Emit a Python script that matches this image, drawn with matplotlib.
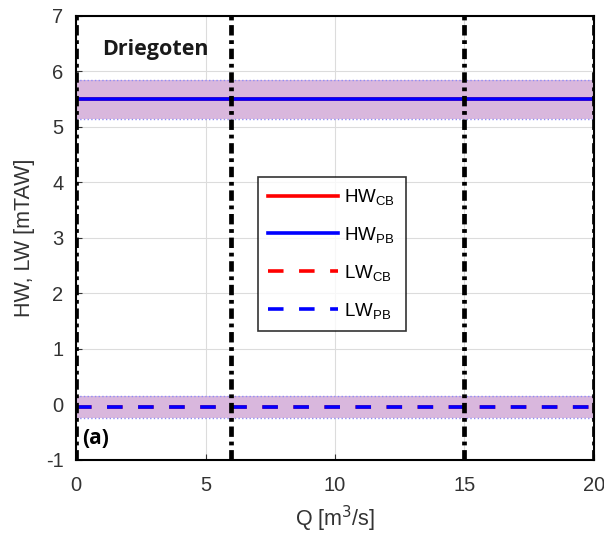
import numpy as np
import matplotlib.pyplot as plt

# data
q = [0, 20]
hw_cb = [5.5, 5.5]
hw_pb = [5.5, 5.5]
lw_cb = [-0.05, -0.05]
lw_pb = [-0.05, -0.05]
hw_lo = [5.15, 5.15]
hw_hi = [5.85, 5.85]
lw_lo = [-0.25, -0.25]
lw_hi = [0.15, 0.15]
q_marks = [0, 6, 15, 20]

plt.rcParams['font.family'] = ['Liberation Sans', 'DejaVu Sans']
plt.rcParams['axes.unicode_minus'] = False

fig = plt.figure(figsize=(6.04, 5.5), dpi=100)
ax = fig.add_axes([0.126, 0.164, 0.857, 0.807])

# uncertainty bands
for lo, hi in [(hw_lo, hw_hi), (lw_lo, lw_hi)]:
    ax.fill_between(q, lo, hi, color='#d9b7dd', lw=0, zorder=1)
    ax.plot(q, lo, ls=':', color='#8f8cf5', lw=1, zorder=2)
    ax.plot(q, hi, ls=':', color='#8f8cf5', lw=1, zorder=2)

dash = (0, (4.3, 4.3))
ax.plot(q, hw_cb, color='red', lw=2.6, label=r'$\mathregular{HW_{CB}}$', zorder=3)
ax.plot(q, hw_pb, color='blue', lw=2.6, label=r'$\mathregular{HW_{PB}}$', zorder=4)
ax.plot(q, lw_cb, color='red', lw=2.6, ls=dash, label=r'$\mathregular{LW_{CB}}$', zorder=3)
ax.plot(q, lw_pb, color='blue', lw=2.6, ls=dash, label=r'$\mathregular{LW_{PB}}$', zorder=4)

for xv in q_marks:
    ax.axvline(xv, color='black', lw=3.4, ls=(0, (2.2, 1.0, 0.8, 1.0)), zorder=5)

ax.set_xlim(0, 20)
ax.set_ylim(-1, 7)
ax.set_xticks([0, 5, 10, 15, 20])
ax.set_yticks(range(-1, 8))
ax.grid(True, color='#dcdcdc', lw=0.8)
ax.set_axisbelow(True)
ax.tick_params(direction='in', labelsize=14.5, colors='#333333', length=4)
ax.tick_params(axis='x', pad=12)
ax.tick_params(axis='y', pad=9)
for s in ax.spines.values():
    s.set_linewidth(1.5)

ax.set_xlabel(r'Q [m$^3$/s]', fontsize=15.5, color='#333333', labelpad=6)
ax.set_ylabel('HW, LW [mTAW]', fontsize=15.5, color='#333333', labelpad=8)

ax.text(0.05, 0.912, 'Driegoten', transform=ax.transAxes, fontsize=15.5,
        fontweight='bold', family=['Open Sans'], va='baseline', color='#1a1a1a',
        zorder=6)
ax.text(0.012, 0.035, '(a)', transform=ax.transAxes, fontsize=15,
        fontweight='bold', family=['Open Sans'], zorder=6)

leg = ax.legend(loc='center', bbox_to_anchor=(0.494, 0.464), fontsize=13.5,
                frameon=True, fancybox=False, edgecolor='black',
                handlelength=3.7, handletextpad=0.35, labelspacing=0.95,
                borderpad=0.55, borderaxespad=0)
leg.get_frame().set_linewidth(1.2)
leg.set_zorder(7)

fig.savefig('out.png', dpi=100)
